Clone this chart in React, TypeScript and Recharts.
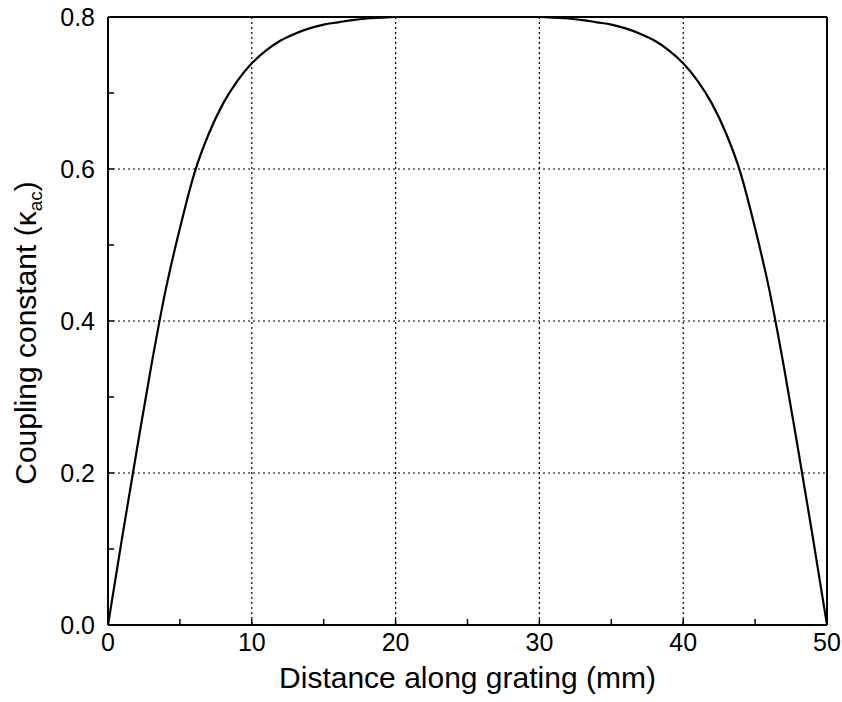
import React from "react"
import {
    LineChart,
    Line,
    XAxis,
    YAxis,
    CartesianGrid,
} from "recharts"

// distance along grating (mm)
const DISTANCE = [
    0, 1, 2, 3, 4, 5, 6, 7, 8, 9, 10, 11, 12, 13, 14, 15, 16, 17, 18, 19, 20,
    21, 22, 23, 24, 25, 26, 27, 28, 29, 30, 31, 32, 33, 34, 35, 36, 37, 38, 39,
    40, 41, 42, 43, 44, 45, 46, 47, 48, 49, 50,
]

// coupling constant kappa_ac
const KAPPA = [
    0, 0.117, 0.23, 0.34, 0.44, 0.522, 0.594, 0.646, 0.686, 0.716, 0.739,
    0.756, 0.769, 0.778, 0.785, 0.79, 0.793, 0.796, 0.798, 0.799, 0.8,
    0.8, 0.8, 0.8, 0.8, 0.8, 0.8, 0.8, 0.8, 0.8, 0.8,
    0.799, 0.798, 0.796, 0.793, 0.79, 0.785, 0.778, 0.769, 0.756, 0.739,
    0.716, 0.686, 0.646, 0.594, 0.522, 0.44, 0.34, 0.23, 0.117, 0,
]

const X_TICKS = [0, 5, 10, 15, 20, 25, 30, 35, 40, 45, 50]
const Y_TICKS = [0, 0.1, 0.2, 0.3, 0.4, 0.5, 0.6, 0.7, 0.8]
const X_GRID = [10, 20, 30, 40]
const Y_GRID = [0.2, 0.4, 0.6]

const data = DISTANCE.map((d, i) => ({ d, k: KAPPA[i] }))

const FONT = "'Liberation Sans', Arial, Helvetica, sans-serif"

function XTitle(props: any) {
    const vb = props.viewBox
    return (
        <text
            x={vb.x + vb.width / 2}
            y={vb.y + 63}
            textAnchor="middle"
            fontFamily={FONT}
            fontSize={30}
            fill="#000"
        >
            Distance along grating (mm)
        </text>
    )
}

function YTitle(props: any) {
    const vb = props.viewBox
    const cx = 36
    const cy = vb.y + vb.height / 2 + 12
    return (
        <text
            x={cx}
            y={cy}
            transform={`rotate(-90 ${cx} ${cy})`}
            textAnchor="middle"
            fontFamily={FONT}
            fontSize={30}
            fill="#000"
        >
            Coupling constant (κ
            <tspan fontSize={19} dy={6}>ac</tspan>
            <tspan dy={-6}>)</tspan>
        </text>
    )
}

export default function App() {
    const tickStyle = { fontSize: 25, fill: "#000", fontFamily: FONT }
    return (
        <div style={{ position: "absolute", left: 0, top: 0, background: "#fff" }}>
            <LineChart
                width={842}
                height={702}
                data={data}
                margin={{ top: 16, right: 14, left: 0, bottom: 0 }}
            >
                <CartesianGrid
                    horizontal
                    vertical
                    horizontalValues={Y_GRID}
                    verticalValues={X_GRID}
                    stroke="#000"
                    strokeWidth={1.2}
                    strokeDasharray="2 3"
                />

                <XAxis
                    dataKey="d"
                    type="number"
                    domain={[0, 50]}
                    ticks={X_TICKS}
                    interval={0}
                    height={77}
                    tickSize={-6}
                    tickMargin={14}
                    tickFormatter={(v: number) => (v % 10 === 0 ? String(v) : "")}
                    tick={tickStyle}
                    stroke="#000"
                    axisLine={{ stroke: "#000", strokeWidth: 2 }}
                    tickLine={{ stroke: "#000", strokeWidth: 1.5 }}
                    label={<XTitle />}
                />
                <XAxis
                    xAxisId="top"
                    orientation="top"
                    dataKey="d"
                    type="number"
                    domain={[0, 50]}
                    ticks={X_TICKS}
                    interval={0}
                    height={1}
                    tickSize={-6}
                    tick={false}
                    axisLine={{ stroke: "#000", strokeWidth: 2 }}
                    tickLine={{ stroke: "#000", strokeWidth: 1.5 }}
                />
                <YAxis
                    type="number"
                    domain={[0, 0.8]}
                    ticks={Y_TICKS}
                    interval={0}
                    width={108}
                    tickSize={-6}
                    tickMargin={19}
                    tickFormatter={(v: number) =>
                        Math.round(v * 10) % 2 === 0 ? v.toFixed(1) : ""
                    }
                    tick={tickStyle}
                    axisLine={{ stroke: "#000", strokeWidth: 2 }}
                    tickLine={{ stroke: "#000", strokeWidth: 1.5 }}
                    label={<YTitle />}
                />
                <YAxis
                    yAxisId="right"
                    orientation="right"
                    type="number"
                    domain={[0, 0.8]}
                    ticks={Y_TICKS}
                    interval={0}
                    width={1}
                    tickSize={-6}
                    tick={false}
                    axisLine={{ stroke: "#000", strokeWidth: 2 }}
                    tickLine={{ stroke: "#000", strokeWidth: 1.5 }}
                />

                <Line
                    type="monotone"
                    dataKey="k"
                    stroke="#000"
                    strokeWidth={2.2}
                    dot={false}
                    isAnimationActive={false}
                />
            </LineChart>
        </div>
    )
}
